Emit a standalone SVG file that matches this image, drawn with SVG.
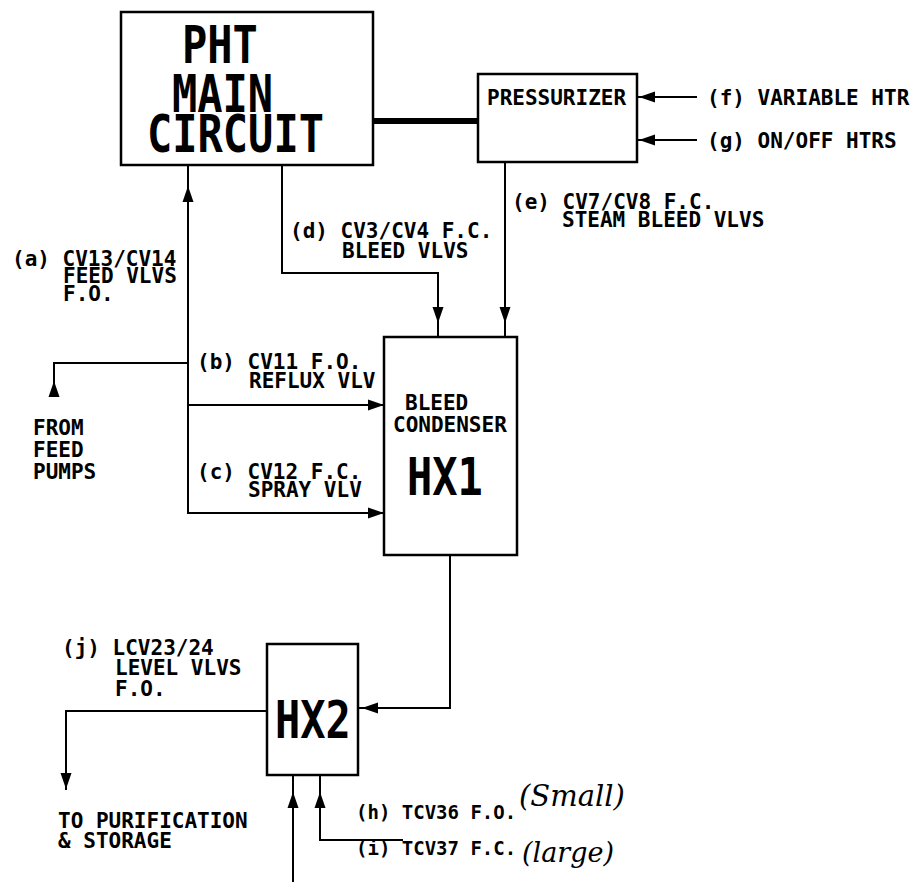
<svg xmlns="http://www.w3.org/2000/svg" xmlns:xlink="http://www.w3.org/1999/xlink" width="920" height="882" viewBox="0 0 920 882">
<style>
.box{fill:none;stroke:#000;stroke-width:2.5}
.ln{fill:none;stroke:#000;stroke-width:2}
.lbl{font-family:"DejaVu Sans Mono","Liberation Mono",monospace;font-weight:bold;font-size:21px;fill:#000}
.sm{font-size:19px}
.big{font-family:"DejaVu Sans Mono","Liberation Mono",monospace;font-weight:bold;font-size:42px;fill:#000}
.hand{font-family:"DejaVu Serif","Liberation Serif",serif;font-style:italic;fill:#000}
</style>
<defs>
<path id="ah" d="M0,0 L-16,-5.5 L-16,5.5 Z" fill="#000"/>
</defs>
<rect width="920" height="882" fill="#fff"/>

<g id="connectors">
<line class="ln" x1="373" y1="121" x2="478" y2="121" style="stroke-width:6"/>
<polyline class="ln" points="188,165 188,513 384,513"/>
<line class="ln" x1="188" y1="405" x2="384" y2="405"/>
<polyline class="ln" points="188,363 54,363 54,395"/>
<polyline class="ln" points="282,165 282,273 438,273 438,337"/>
<line class="ln" x1="505" y1="162" x2="505" y2="337"/>
<line class="ln" x1="697" y1="97" x2="637" y2="97"/>
<line class="ln" x1="697" y1="140" x2="637" y2="140"/>
<polyline class="ln" points="450,555 450,708 358,708"/>
<polyline class="ln" points="267,711 66,711 66,790"/>
<line class="ln" x1="293" y1="775" x2="293" y2="882"/>
<polyline class="ln" points="320,775 320,840 403,840"/>
<use xlink:href="#ah" transform="translate(188,186) rotate(-90)"/>
<use xlink:href="#ah" transform="translate(54,381) rotate(-90)"/>
<use xlink:href="#ah" transform="translate(384,405)"/>
<use xlink:href="#ah" transform="translate(384,513)"/>
<use xlink:href="#ah" transform="translate(438,323) rotate(90)"/>
<use xlink:href="#ah" transform="translate(505,323) rotate(90)"/>
<use xlink:href="#ah" transform="translate(639,97) rotate(180)"/>
<use xlink:href="#ah" transform="translate(639,140) rotate(180)"/>
<use xlink:href="#ah" transform="translate(362,708) rotate(180)"/>
<use xlink:href="#ah" transform="translate(66,789) rotate(90)"/>
<use xlink:href="#ah" transform="translate(293,792) rotate(-90)"/>
<use xlink:href="#ah" transform="translate(320,792) rotate(-90)"/>
</g>

<g id="pht">
<rect class="box" x="121" y="12" width="252" height="153"/>
<text class="big" transform="translate(0,63) scale(1,1.22)"><tspan x="182" y="0">PHT</tspan><tspan x="172" y="40.2">MAIN</tspan><tspan x="147" y="73">CIRCUIT</tspan></text>
</g>

<g id="pressurizer">
<rect class="box" x="478" y="74" width="159" height="88"/>
<text class="lbl" x="487" y="105">PRESSURIZER</text>
</g>

<g id="hx1">
<rect class="box" x="384" y="337" width="133" height="218"/>
<text class="lbl"><tspan x="405" y="410">BLEED</tspan><tspan x="393" y="432">CONDENSER</tspan></text>
<text class="big" transform="translate(407,495) scale(1,1.22)">HX1</text>
</g>

<g id="hx2">
<rect class="box" x="267" y="644" width="91" height="131"/>
<text class="big" transform="translate(275,738) scale(1,1.22)">HX2</text>
</g>

<g id="labels">
<text class="lbl"><tspan x="12" y="266">(a) CV13/CV14</tspan><tspan x="63" y="283">FEED VLVS</tspan><tspan x="63" y="301">F.O.</tspan></text>
<text class="lbl"><tspan x="33" y="435">FROM</tspan><tspan x="33" y="457">FEED</tspan><tspan x="33" y="479">PUMPS</tspan></text>
<text class="lbl"><tspan x="197" y="369">(b) CV11 F.O.</tspan><tspan x="249" y="388">REFLUX VLV</tspan></text>
<text class="lbl"><tspan x="197" y="479">(c) CV12 F.C.</tspan><tspan x="248" y="497">SPRAY VLV</tspan></text>
<text class="lbl"><tspan x="290" y="238">(d) CV3/CV4 F.C.</tspan><tspan x="342" y="258">BLEED VLVS</tspan></text>
<text class="lbl"><tspan x="512" y="209">(e) CV7/CV8  F.C.</tspan><tspan x="562" y="227">STEAM BLEED VLVS</tspan></text>
<text class="lbl" x="707" y="105">(f) VARIABLE HTR</text>
<text class="lbl" x="707" y="148">(g) ON/OFF HTRS</text>
<text class="lbl"><tspan x="62" y="655">(j) LCV23/24</tspan><tspan x="115" y="675">LEVEL VLVS</tspan><tspan x="115" y="696">F.O.</tspan></text>
<text class="lbl"><tspan x="58" y="828">TO PURIFICATION</tspan><tspan x="58" y="848">&amp; STORAGE</tspan></text>
<text class="lbl sm" x="356" y="819">(h) TCV36 F.O.</text>
<text class="lbl sm" x="356" y="855">(i) TCV37 F.C.</text>
<text class="hand" x="519" y="806" font-size="29">(Small)</text>
<text class="hand" x="522" y="862" font-size="27">(large)</text>
</g>
</svg>
